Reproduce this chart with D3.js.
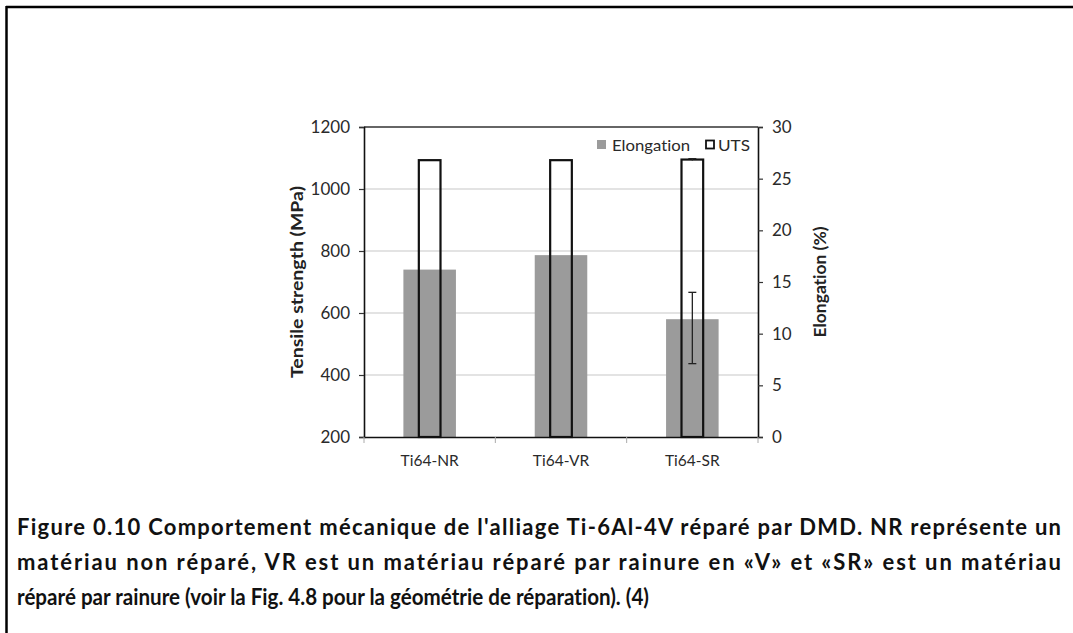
<!DOCTYPE html>
<html>
<head>
<meta charset="utf-8">
<script src="https://cdn.jsdelivr.net/npm/d3@7"></script>
<style>
  html, body { margin: 0; padding: 0; background: #fff; }
  svg { display: block; }
  svg text { font-variant-ligatures: none; }
  .tick text { font-family: Lato, "Open Sans", sans-serif; }
</style>
</head>
<body>
<svg id="chart" width="1073" height="633"></svg>
<script>
// Tensile test results for the three Ti-6Al-4V specimen types
const categories = ["Ti64-NR", "Ti64-VR", "Ti64-SR"];
const utsValues = [1093, 1093, 1095];          // MPa
const utsErrors = [0, 0, 3];                    // MPa
const elongationValues = [16.2, 17.6, 11.4];    // %
const elongationErrLow = [null, null, 7.1];     // % (lower end of error bar)
const elongationErrHigh = [null, null, 14.0];   // % (upper end of error bar)
const leftTicks = [200, 400, 600, 800, 1000, 1200];
const rightTicks = [0, 5, 10, 15, 20, 25, 30];
const captionLines = [
  "Figure 0.10  Comportement mécanique de l'alliage Ti-6Al-4V réparé par DMD. NR représente un",
  "matériau non réparé, VR est un matériau réparé par rainure en «V» et «SR» est un matériau",
  "réparé par rainure (voir la Fig. 4.8 pour la géométrie de réparation). (4)"
];

const svg = d3.select("#chart");
const plot = { left: 364, right: 758, top: 127, bottom: 437 };
const font = "Lato, 'Open Sans', sans-serif";

// page frame (top and left rules)
svg.append("line").attr("x1", 6).attr("x2", 1073).attr("y1", 7).attr("y2", 7)
  .attr("stroke", "#000").attr("stroke-width", 2.5);
svg.append("line").attr("x1", 6.5).attr("x2", 6.5).attr("y1", 6).attr("y2", 633)
  .attr("stroke", "#000").attr("stroke-width", 2.5);

const x = d3.scaleBand().domain(categories).range([plot.left, plot.right]).padding(0);
const yL = d3.scaleLinear().domain([200, 1200]).range([plot.bottom, plot.top]);
const yR = d3.scaleLinear().domain([0, 30]).range([plot.bottom, plot.top]);

// gridlines
svg.append("g").selectAll("line").data(leftTicks.slice(1, -1)).join("line")
  .attr("x1", plot.left).attr("x2", plot.right)
  .attr("y1", d => yL(d)).attr("y2", d => yL(d))
  .attr("stroke", "#c8c8c8").attr("stroke-width", 1.2);

// plot area top border
svg.append("line").attr("x1", plot.left).attr("x2", plot.right)
  .attr("y1", plot.top).attr("y2", plot.top).attr("stroke", "#333").attr("stroke-width", 1.5);

// elongation bars
const elongW = x.bandwidth() * 0.40;
svg.append("g").selectAll("rect").data(categories).join("rect")
  .attr("x", d => x(d) + x.bandwidth() / 2 - elongW / 2)
  .attr("width", elongW)
  .attr("y", (d, i) => yR(elongationValues[i]))
  .attr("height", (d, i) => yR(0) - yR(elongationValues[i]))
  .attr("fill", "#9b9b9b");

// UTS bars (outlined)
const utsW = x.bandwidth() * 0.165;
svg.append("g").selectAll("rect").data(categories).join("rect")
  .attr("x", d => x(d) + x.bandwidth() / 2 - utsW / 2)
  .attr("width", utsW)
  .attr("y", (d, i) => yL(utsValues[i]))
  .attr("height", (d, i) => yL(200) - yL(utsValues[i]))
  .attr("fill", "none").attr("stroke", "#111").attr("stroke-width", 2.2);

// error bars
const cap = 4;
categories.forEach((c, i) => {
  const cx = x(c) + x.bandwidth() / 2;
  if (elongationErrLow[i] != null) {
    const y0 = yR(elongationErrLow[i]), y1 = yR(elongationErrHigh[i]);
    const g = svg.append("g").attr("stroke", "#222").attr("stroke-width", 1.3);
    g.append("line").attr("x1", cx).attr("x2", cx).attr("y1", y0).attr("y2", y1);
    g.append("line").attr("x1", cx - cap).attr("x2", cx + cap).attr("y1", y0).attr("y2", y0);
    g.append("line").attr("x1", cx - cap).attr("x2", cx + cap).attr("y1", y1).attr("y2", y1);
  }
  if (utsErrors[i] > 0) {
    const y0 = yL(utsValues[i] - utsErrors[i]), y1 = yL(utsValues[i] + utsErrors[i]);
    const g = svg.append("g").attr("stroke", "#222").attr("stroke-width", 1.3);
    g.append("line").attr("x1", cx).attr("x2", cx).attr("y1", y0).attr("y2", y1);
    g.append("line").attr("x1", cx - cap).attr("x2", cx + cap).attr("y1", y1).attr("y2", y1);
  }
});

// axes
const axL = svg.append("g").attr("transform", `translate(${plot.left},0)`)
  .call(d3.axisLeft(yL).tickValues(leftTicks).tickFormat(d3.format("d")).tickSize(5).tickPadding(9));
const axR = svg.append("g").attr("transform", `translate(${plot.right},0)`)
  .call(d3.axisRight(yR).tickValues(rightTicks).tickFormat(d3.format("d")).tickSize(5).tickPadding(9));
const axB = svg.append("g").attr("transform", `translate(0,${plot.bottom})`)
  .call(d3.axisBottom(x).tickSize(0).tickPadding(18));

[axL, axR].forEach(a => {
  a.select(".domain").attr("stroke", "#111").attr("stroke-width", 1.6);
  a.selectAll(".tick line").attr("stroke", "#333").attr("stroke-width", 1.2);
  a.selectAll(".tick text").attr("font-size", 17).attr("fill", "#2a2a2a");
});
axB.select(".domain").attr("stroke", "#111").attr("stroke-width", 1.6);
axB.selectAll(".tick text").attr("font-size", 15.5).attr("fill", "#2a2a2a");

// category separator ticks below the x axis
const bounds = categories.map(c => x(c)).concat([plot.right]);
svg.append("g").selectAll("line").data(bounds).join("line")
  .attr("x1", d => d).attr("x2", d => d)
  .attr("y1", plot.bottom).attr("y2", plot.bottom + 6)
  .attr("stroke", "#aaa").attr("stroke-width", 1);

// axis titles
const midY = (plot.top + plot.bottom) / 2;
svg.append("text")
  .attr("transform", `translate(303,${midY}) rotate(-90)`)
  .attr("text-anchor", "middle").attr("font-family", font).attr("font-weight", "bold")
  .attr("font-size", 17.5).attr("fill", "#222")
  .attr("textLength", 192).attr("lengthAdjust", "spacingAndGlyphs")
  .text("Tensile strength (MPa)");
svg.append("text")
  .attr("transform", `translate(826,${midY}) rotate(-90)`)
  .attr("text-anchor", "middle").attr("font-family", font).attr("font-weight", "bold")
  .attr("font-size", 17.5).attr("fill", "#222")
  .attr("textLength", 111).attr("lengthAdjust", "spacingAndGlyphs")
  .text("Elongation (%)");

// legend
const lg = svg.append("g").attr("font-family", font).attr("font-size", 16).attr("fill", "#2a2a2a");
lg.append("rect").attr("x", 597).attr("y", 140).attr("width", 9).attr("height", 9).attr("fill", "#9b9b9b");
lg.append("text").attr("x", 612).attr("y", 151).attr("textLength", 78)
  .attr("lengthAdjust", "spacingAndGlyphs").text("Elongation");
lg.append("rect").attr("x", 706).attr("y", 140.5).attr("width", 8).attr("height", 8)
  .attr("fill", "none").attr("stroke", "#111").attr("stroke-width", 1.8);
lg.append("text").attr("x", 718).attr("y", 151).attr("textLength", 32)
  .attr("lengthAdjust", "spacingAndGlyphs").text("UTS");

// caption: justified first two lines, last line ends short
const capG = svg.append("g").attr("font-family", font).attr("font-weight", "bold")
  .attr("font-size", 22).attr("fill", "#111");
const baselines = [535, 570, 605];
const lineWidths = [1044, 1044, 632];
const captionX = 17;
captionLines.forEach((t, i) => {
  capG.append("text").attr("x", captionX).attr("y", baselines[i])
    .attr("textLength", lineWidths[i])
    .attr("lengthAdjust", i < 2 ? "spacing" : "spacingAndGlyphs")
    .text(t);
});
</script>
</body>
</html>
